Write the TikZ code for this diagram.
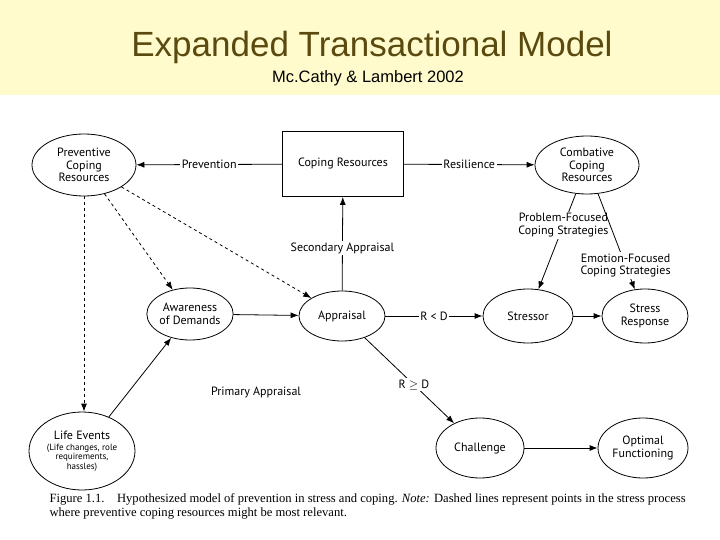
\documentclass[tikz,border=0pt]{standalone}
\usepackage{fontspec}
\setmainfont{Liberation Serif}
\setsansfont{PT Sans}
\newfontfamily\headfont{Liberation Sans}
\usetikzlibrary{arrows.meta,shapes.geometric}
\definecolor{band}{HTML}{FFFBCC}
\definecolor{titlec}{HTML}{5A4A10}
\begin{document}
\begin{tikzpicture}[x=1pt,y=-1pt,
  every node/.style={font=\sffamily\fontsize{12}{12.5}\selectfont, align=center},
  el/.style={draw, thick, ellipse, inner sep=0pt},
  arr/.style={-{Latex[length=8pt,width=6pt]}, thick},
  dsh/.style={arr, dashed},
  lab/.style={fill=white, inner sep=1.5pt}]
\useasboundingbox (0,0) rectangle (720,540);
\fill[band] (0,0) rectangle (720,95);
\node[font=\headfont\fontsize{35}{38}\selectfont, text=titlec] (title) at (372,47) {Expanded Transactional Model};
\node[font=\headfont\fontsize{16.5}{18}\selectfont] (sub) at (368,78) {Mc.Cathy \& Lambert 2002};

\node[el, minimum width=104, minimum height=62] (pcr) at (84,165) {Preventive\\Coping\\Resources};
\node[draw, thick, minimum width=121, minimum height=65] (cr) at (343,164) {Coping Resources};
\node[el, minimum width=104, minimum height=58] (ccr) at (587,165) {Combative\\Coping\\Resources};
\node[el, minimum width=82, minimum height=52] (aw) at (190,314) {Awareness\\of Demands};
\node[el, minimum width=86, minimum height=50] (ap) at (342,316) {Appraisal};
\node[el, minimum width=90, minimum height=54] (st) at (528,316) {Stressor};
\node[el, minimum width=86, minimum height=54] (sr) at (645,316) {Stress\\Response};
\node[el, minimum width=106, minimum height=78] (le) at (82,451) {Life Events\\[-2pt]{\fontsize{9}{10}\selectfont (Life changes, role}\\[-3pt]{\fontsize{9}{10}\selectfont requirements,}\\[-3pt]{\fontsize{9}{10}\selectfont hassles)}};
\node[el, minimum width=88, minimum height=60] (ch) at (480,448) {Challenge};
\node[el, minimum width=90, minimum height=60] (of) at (643,448) {Optimal\\Functioning};

\draw[arr] (cr) -- node[lab] {Prevention} (pcr);
\draw[arr] (cr) -- node[lab] {Resilience} (ccr);
\draw[arr] (ap) -- node[lab, pos=0.45] {Secondary Appraisal} (cr);
\draw[arr] (aw) -- (ap);
\draw[dsh] (pcr) -- (aw);
\draw[dsh] (pcr) -- (ap);
\draw[dsh] (pcr.south) -- (pcr.south |- le.north);
\draw[arr] (le) -- (aw);
\node (pa) at (256,392) {Primary Appraisal};
\draw[arr] (ap) -- node[lab] {R < D} (st);
\draw[arr] (ap) -- node[lab, pos=0.55] {R \ensuremath{\geq} D} (ch);
\draw[arr] (ccr) -- node[lab, pos=0.33] {Problem-Focused\\Coping Strategies} (st);
\draw[arr] (ccr) -- node[lab, pos=0.75] {Emotion-Focused\\Coping Strategies} (sr);
\draw[arr] (st) -- (sr);
\draw[arr] (ch) -- (of);

\node[font=\rmfamily\fontsize{12.6}{14}\selectfont, align=left, anchor=north west] (cap) at (46,490) {Figure 1.1.\quad Hypothesized model of prevention in stress and coping. \textit{Note:} Dashed lines represent points in the stress process\\where preventive coping resources might be most relevant.};
\end{tikzpicture}
\end{document}
